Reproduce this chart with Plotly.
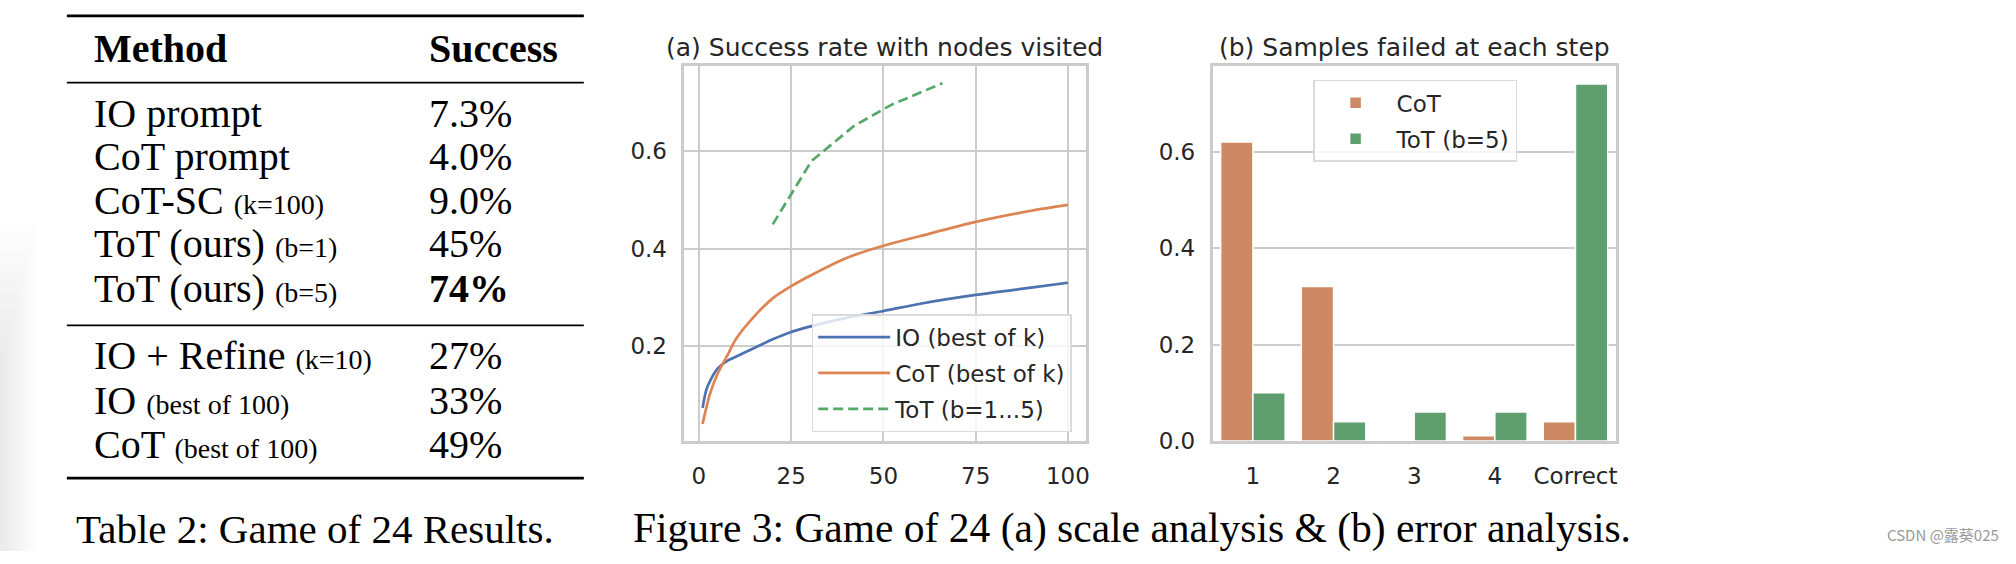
import plotly.graph_objects as go

W, H = 2016, 564

# ---------------- data ----------------
# (a) success rate vs nodes visited
k_values = [1, 2, 3, 5, 8, 10, 15, 20, 25, 30, 40, 50, 60, 75, 90, 100]
io_best_of_k = [0.073, 0.110, 0.128, 0.153, 0.171, 0.178, 0.196, 0.214, 0.229, 0.240,
                0.258, 0.272, 0.287, 0.305, 0.320, 0.330]
cot_best_of_k = [0.040, 0.073, 0.102, 0.142, 0.185, 0.214, 0.261, 0.298, 0.323, 0.344,
                 0.381, 0.406, 0.426, 0.455, 0.478, 0.490]
tot_nodes = [20, 30.5, 42, 52, 66]
tot_success = [0.45, 0.58, 0.652, 0.695, 0.74]

# (b) samples failed at each step
steps = ["1", "2", "3", "4", "Correct"]
cot_failed = [0.62, 0.32, 0.003, 0.011, 0.04]
tot_failed = [0.10, 0.04, 0.06, 0.06, 0.74]

# Table 2
table_methods = ["IO prompt", "CoT prompt", "CoT-SC", "ToT (ours)", "ToT (ours)",
                 "IO + Refine", "IO", "CoT"]
table_notes = ["", "", "(k=100)", "(b=1)", "(b=5)", "(k=10)", "(best of 100)", "(best of 100)"]
table_success = ["7.3%", "4.0%", "9.0%", "45%", "74%", "27%", "33%", "49%"]
table_bold = [False, False, False, False, True, False, False, False]

# ---------------- styling ----------------
SANS = "DejaVu Sans, Liberation Sans, sans-serif"
SERIF = "Liberation Serif, Times New Roman, serif"
TXT = "#262626"
GRID = "#cccccc"
BLUE, ORANGE, GREEN = "#4C72B0", "#DD8452", "#55A868"
BAR_ORANGE, BAR_GREEN = "#CC8963", "#5F9E6E"


def px_x(p):
    return p / W


def px_y(p):
    return 1 - p / H


fig = go.Figure()

# (a) lines
fig.add_trace(go.Scatter(x=k_values, y=io_best_of_k, mode="lines", name="IO (best of k)",
                         line=dict(color=BLUE, width=2.7, shape="spline", smoothing=0.8),
                         xaxis="x", yaxis="y", legend="legend", legendgroup="io"))
fig.add_trace(go.Scatter(x=k_values, y=cot_best_of_k, mode="lines", name="CoT (best of k)",
                         line=dict(color=ORANGE, width=2.7, shape="spline", smoothing=0.8),
                         xaxis="x", yaxis="y", legend="legend", legendgroup="cot"))
fig.add_trace(go.Scatter(x=tot_nodes, y=tot_success, mode="lines", name="ToT (b=1...5)",
                         line=dict(color=GREEN, width=2.7, dash="10px,5px"),
                         xaxis="x", yaxis="y", legend="legend", legendgroup="tot"))

# (b) bars
fig.add_trace(go.Bar(x=steps, y=cot_failed, name="CoT",
                     marker=dict(color=BAR_ORANGE, line=dict(color="white", width=1.5)),
                     xaxis="x2", yaxis="y2", legend="legend2", legendgroup="cotbar"))
fig.add_trace(go.Bar(x=steps, y=tot_failed, name="ToT (b=5)",
                     marker=dict(color=BAR_GREEN, line=dict(color="white", width=1.5)),
                     xaxis="x2", yaxis="y2", legend="legend2", legendgroup="totbar"))

ydom = [px_y(451.4), px_y(67.7)]
common_axis = dict(showline=True, mirror=True, linecolor=GRID, linewidth=2.5,
                   gridcolor=GRID, gridwidth=2, zeroline=False,
                   tickfont=dict(family=SANS, size=23, color=TXT),
                   ticks="outside", tickcolor="rgba(0,0,0,0)")

legend_common = dict(xanchor="left", yanchor="top", bgcolor="rgba(255,255,255,0.8)",
                     bordercolor="#dadada", borderwidth=1.5,
                     font=dict(family=SANS, size=23, color=TXT), itemwidth=72,
                     tracegroupgap=3)

fig.update_layout(
    width=W, height=H, margin=dict(l=0, r=0, t=0, b=0),
    paper_bgcolor="white", plot_bgcolor="white",
    font=dict(family=SANS, color=TXT),
    barmode="group", bargap=0.2, bargroupgap=0.0,
    xaxis=dict(domain=[px_x(685.7), px_x(1088.3)], range=[-3.95, 104.95],
               tickvals=[0, 25, 50, 75, 100], showgrid=True, ticklen=13, anchor="y", **common_axis),
    yaxis=dict(domain=ydom, range=[0.005, 0.775], tickvals=[0.2, 0.4, 0.6], tickformat=".1f",
               showgrid=True, ticklen=10, anchor="x", **common_axis),
    xaxis2=dict(domain=[px_x(1215), px_x(1619)], range=[-0.5, 4.5], type="category",
                showgrid=False, ticklen=13, anchor="y2", **common_axis),
    yaxis2=dict(domain=ydom, range=[0, 0.777], tickvals=[0.0, 0.2, 0.4, 0.6], tickformat=".1f",
                showgrid=True, ticklen=10, anchor="x2", **common_axis),
    legend=dict(x=px_x(813.3), y=px_y(321.5), **legend_common),
    legend2=dict(x=px_x(1315.7), y=px_y(81.7), **legend_common),
    showlegend=True,
)

annotations = []
# subplot titles
annotations.append(dict(text="(a) Success rate with nodes visited", x=px_x(886), y=px_y(48.6),
                        xref="paper", yref="paper", xanchor="center", yanchor="middle",
                        showarrow=False, font=dict(family=SANS, size=25, color=TXT)))
annotations.append(dict(text="(b) Samples failed at each step", x=px_x(1417), y=px_y(48.6),
                        xref="paper", yref="paper", xanchor="center", yanchor="middle",
                        showarrow=False, font=dict(family=SANS, size=25, color=TXT)))

# table
TFS = 40
annotations.append(dict(text="<b>Method</b>", x=px_x(92), y=px_y(49.7), xref="paper", yref="paper",
                        xanchor="left", yanchor="middle", showarrow=False,
                        font=dict(family=SERIF, size=TFS, color="black")))
annotations.append(dict(text="<b>Success</b>", x=px_x(428), y=px_y(49.7), xref="paper", yref="paper",
                        xanchor="left", yanchor="middle", showarrow=False,
                        font=dict(family=SERIF, size=TFS, color="black")))
row_y = [116.3, 160.0, 205.0, 249.5, 295.0, 364.0, 409.5, 455.0]
for m, n, s, b, yy in zip(table_methods, table_notes, table_success, table_bold, row_y):
    label = m + (" <span style='font-size:28px'>" + n + "</span>" if n else "")
    annotations.append(dict(text=label, x=px_x(92), y=px_y(yy), xref="paper", yref="paper",
                            xanchor="left", yanchor="middle", showarrow=False,
                            font=dict(family=SERIF, size=TFS, color="black")))
    annotations.append(dict(text=("<b>" + s + "</b>") if b else s, x=px_x(428), y=px_y(yy),
                            xref="paper", yref="paper", xanchor="left", yanchor="middle",
                            showarrow=False, font=dict(family=SERIF, size=TFS, color="black")))

# captions
annotations.append(dict(text="Table 2: Game of 24 Results.", x=px_x(74), y=px_y(541),
                        xref="paper", yref="paper", xanchor="left", yanchor="middle",
                        showarrow=False, font=dict(family=SERIF, size=41, color="black")))
annotations.append(dict(text="Figure 3: Game of 24 (a) scale analysis &amp; (b) error analysis.",
                        x=px_x(632), y=px_y(541), xref="paper", yref="paper", xanchor="left",
                        yanchor="middle", showarrow=False,
                        font=dict(family=SERIF, size=41.5, color="black")))
annotations.append(dict(text="CSDN @露葵025", x=px_x(1889), y=px_y(547), xref="paper", yref="paper",
                        xanchor="left", yanchor="middle", showarrow=False,
                        font=dict(family="Noto Sans CJK SC, sans-serif", size=15, color="#9a9a9a")))
fig.update_layout(annotations=annotations)

shapes = []
# very faint page shadow along the far left edge of the screenshot
for i in range(10):
    shapes.append(dict(type="rect", xref="paper", yref="paper", x0=0, x1=px_x(36 - 3.4 * i),
                       y0=0, y1=px_y(230 + 14 * i), line=dict(width=0),
                       fillcolor="rgba(0,0,0,0.007)", layer="below"))
# table rules
for yy, lw in [(16.2, 2.8), (84.5, 1.7), (333.0, 1.7), (489.5, 2.8)]:
    shapes.append(dict(type="line", xref="paper", yref="paper", x0=px_x(67), x1=px_x(585),
                       y0=px_y(yy), y1=px_y(yy), line=dict(color="black", width=lw)))
fig.update_layout(shapes=shapes)

fig.write_html("out.html", config={"displayModeBar": False},
               post_script="document.body.style.margin='0';document.body.style.overflow='hidden';")
